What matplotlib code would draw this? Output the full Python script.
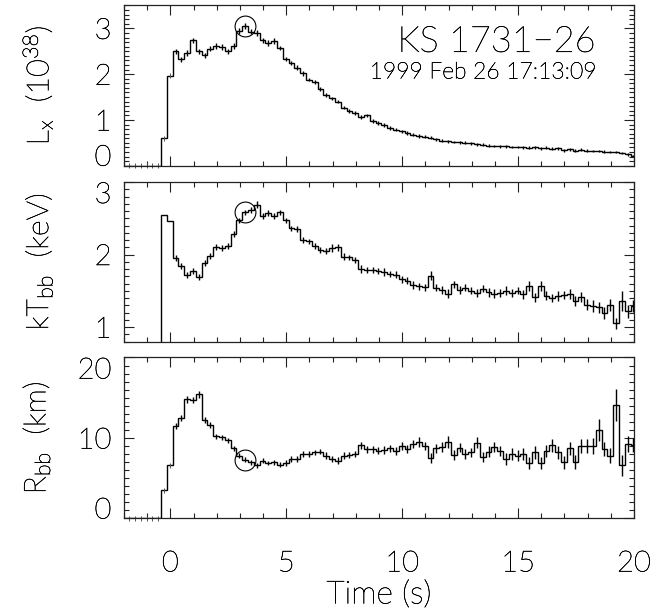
import numpy as np
import matplotlib
matplotlib.use('Agg')
import matplotlib.pyplot as plt
import matplotlib.patheffects as pe
from matplotlib.text import Text
from matplotlib.ticker import MultipleLocator

plt.rcParams['font.family'] = ['Lato', 'DejaVu Sans']
plt.rcParams['font.weight'] = 'light'
plt.rcParams['axes.labelweight'] = 'light'
plt.rcParams['mathtext.fontset'] = 'custom'
plt.rcParams['mathtext.rm'] = 'Lato:light'
plt.rcParams['mathtext.it'] = 'Lato:light'
plt.rcParams['mathtext.default'] = 'rm'

# 0.25 s bins; first 7 bins are before the burst onset
t_start = -2.15
bin_width = 0.25
marked_bin = 21   # bin circled in every panel

lx = [0, 0, 0, 0, 0, 0, 0,
      0.60, 1.97, 2.50, 2.32, 2.46, 2.74, 2.50, 2.41, 2.56, 2.62,
      2.59, 2.50, 2.62, 2.94, 3.05, 2.93, 2.90, 2.74, 2.68, 2.72,
      2.57, 2.33, 2.24, 2.14, 2.02, 1.88, 1.83, 1.68, 1.55, 1.47,
      1.40, 1.27, 1.20, 1.15, 1.07, 1.10, 0.98, 0.94, 0.89, 0.83,
      0.79, 0.75, 0.72, 0.68, 0.65, 0.63, 0.61, 0.58, 0.55, 0.53,
      0.52, 0.51, 0.50, 0.49, 0.47, 0.46, 0.44, 0.43, 0.42, 0.42,
      0.41, 0.41, 0.40, 0.39, 0.40, 0.38, 0.39, 0.37, 0.38, 0.34,
      0.36, 0.33, 0.35, 0.33, 0.32, 0.32, 0.31, 0.30, 0.30, 0.28,
      0.25, 0.21]
lx_err = [0.05, 0.05, 0.05, 0.05, 0.05, 0.05, 0.05,
          0.05, 0.06, 0.06, 0.06, 0.06, 0.06, 0.06, 0.06, 0.06, 0.06,
          0.06, 0.06, 0.06, 0.06, 0.06, 0.06, 0.06, 0.06, 0.06, 0.06,
          0.05, 0.05, 0.05, 0.05, 0.05, 0.04, 0.04, 0.04, 0.04, 0.04,
          0.04, 0.04, 0.04, 0.04, 0.04, 0.04, 0.04, 0.04, 0.04, 0.04,
          0.04, 0.04, 0.04, 0.04, 0.04, 0.03, 0.03, 0.03, 0.03, 0.03,
          0.03, 0.03, 0.03, 0.03, 0.03, 0.03, 0.03, 0.03, 0.03, 0.03,
          0.03, 0.03, 0.03, 0.03, 0.03, 0.03, 0.03, 0.03, 0.03, 0.03,
          0.03, 0.03, 0.03, 0.03, 0.03, 0.03, 0.03, 0.03, 0.03, 0.03,
          0.03, 0.03]

kt = [0, 0, 0, 0, 0, 0, 0,
      2.55, 2.46, 1.95, 1.84, 1.72, 1.77, 1.69, 1.88, 1.98, 2.10,
      2.09, 2.12, 2.28, 2.47, 2.58, 2.61, 2.69, 2.53, 2.57, 2.53,
      2.58, 2.47, 2.36, 2.35, 2.20, 2.18, 2.12, 2.06, 2.05, 2.09,
      2.10, 1.97, 1.96, 1.92, 1.80, 1.79, 1.79, 1.77, 1.76, 1.73,
      1.72, 1.66, 1.64, 1.58, 1.56, 1.55, 1.71, 1.54, 1.51, 1.46,
      1.59, 1.51, 1.54, 1.50, 1.47, 1.53, 1.48, 1.46, 1.47, 1.50,
      1.47, 1.50, 1.45, 1.56, 1.41, 1.56, 1.43, 1.40, 1.43, 1.44,
      1.46, 1.36, 1.41, 1.31, 1.29, 1.27, 1.19, 1.30, 1.05, 1.36,
      1.22, 1.29]
kt_err = [0, 0, 0, 0, 0, 0, 0,
          0.12, 0.06, 0.04, 0.04, 0.04, 0.04, 0.04, 0.04, 0.04, 0.04,
          0.04, 0.04, 0.04, 0.04, 0.04, 0.04, 0.05, 0.04, 0.04, 0.04,
          0.04, 0.04, 0.04, 0.04, 0.04, 0.04, 0.04, 0.04, 0.04, 0.05,
          0.05, 0.05, 0.04, 0.04, 0.05, 0.04, 0.04, 0.04, 0.05, 0.04,
          0.05, 0.05, 0.05, 0.05, 0.05, 0.05, 0.06, 0.05, 0.05, 0.06,
          0.05, 0.06, 0.05, 0.05, 0.06, 0.05, 0.06, 0.06, 0.06, 0.06,
          0.06, 0.05, 0.06, 0.07, 0.06, 0.07, 0.06, 0.06, 0.07, 0.06,
          0.07, 0.07, 0.07, 0.07, 0.08, 0.08, 0.08, 0.08, 0.08, 0.14,
          0.09, 0.08]

r = [0, 0, 0, 0, 0, 0, 0,
     3.5, 6.6, 11.5, 12.5, 14.8, 14.7, 15.4, 12.2, 11.6, 10.2,
     10.1, 9.7, 8.7, 7.8, 7.3, 7.0, 6.6, 7.2, 6.9, 7.0,
     6.7, 6.9, 7.4, 7.4, 8.0, 8.0, 8.2, 8.3, 7.8, 7.4,
     7.2, 7.8, 7.9, 8.0, 9.1, 8.6, 8.6, 8.4, 8.5, 8.7,
     8.4, 9.0, 8.6, 9.2, 9.5, 9.0, 7.5, 8.7, 8.9, 9.5,
     7.9, 8.8, 8.0, 8.2, 9.4, 7.6, 8.3, 8.9, 8.4, 7.4,
     8.0, 7.8, 8.0, 6.9, 8.2, 6.9, 8.4, 9.1, 8.2, 7.0,
     8.7, 7.0, 9.0, 9.0, 9.0, 11.0, 8.6, 7.8, 14.1, 6.6,
     9.2, 9.1]
r_err = [0.3, 0.3, 0.3, 0.3, 0.3, 0.3, 0.3,
         0.3, 0.35, 0.35, 0.35, 0.4, 0.4, 0.4, 0.35, 0.35, 0.3,
         0.3, 0.3, 0.3, 0.3, 0.3, 0.3, 0.3, 0.3, 0.3, 0.3,
         0.3, 0.35, 0.35, 0.35, 0.35, 0.35, 0.35, 0.35, 0.4, 0.4,
         0.4, 0.4, 0.4, 0.4, 0.45, 0.45, 0.45, 0.45, 0.45, 0.45,
         0.5, 0.5, 0.5, 0.5, 0.6, 0.5, 0.6, 0.55, 0.6, 0.8,
         0.6, 0.6, 0.6, 0.6, 0.7, 0.6, 0.65, 0.65, 0.65, 0.7,
         0.7, 0.7, 0.7, 0.7, 0.75, 0.75, 0.75, 0.8, 0.8, 0.8,
         0.85, 0.85, 0.9, 0.9, 1.0, 1.35, 0.9, 0.9, 2.0, 1.3,
         1.0, 0.9]

title = 'KS 1731\u221226'
subtitle = '1999 Feb 26 17:13:09'

n_bins = len(lx)
edges = t_start + bin_width * np.arange(n_bins + 1)
centers = edges[:-1] + bin_width / 2

fig = plt.figure(figsize=(6.56, 6.16), dpi=100)
left, width = 124 / 656, 510 / 656
ax1 = fig.add_axes([left, 0.7310, width, 0.2601])
ax2 = fig.add_axes([left, 0.4456, width, 0.2589])
ax3 = fig.add_axes([left, 0.1583, width, 0.2614])

panels = [
    (ax1, lx, lx_err, (0, 3.5), 1, 0.1, r'L$_\mathrm{x}$  (10$^{38}$)', True),
    (ax2, kt, kt_err, (0.8, 3.0), 1, 0.1, r'kT$_\mathrm{bb}$  (keV)', False),
    (ax3, r, r_err, (0, 20), 10, 1, r'R$_\mathrm{bb}$  (km)', True),
]

pre = centers < 0
for ax, vals, errs, ylim, major, minor, label, show_pre in panels:
    vals = np.array(vals)
    errs = np.array(errs)
    ax.stairs(vals, edges, baseline=None, color='black', lw=1.0)
    ax.errorbar(centers[~pre], vals[~pre], yerr=errs[~pre], fmt='none',
                ecolor='black', elinewidth=1.0, capsize=0)
    if show_pre:
        inside = pre & (centers > -2)
        ax.errorbar(centers[inside], vals[inside], yerr=errs[inside], fmt='none',
                    ecolor='#555555', elinewidth=0.7, capsize=0, clip_on=False)
    ax.plot(centers[marked_bin], vals[marked_bin], 'o', mfc='none', mec='black',
            mew=0.8, ms=15)
    ax.set_xlim(-2, 20)
    ax.set_ylim(*ylim)
    ax.xaxis.set_major_locator(MultipleLocator(5))
    ax.xaxis.set_minor_locator(MultipleLocator(1))
    ax.yaxis.set_major_locator(MultipleLocator(major))
    ax.yaxis.set_minor_locator(MultipleLocator(minor))
    ax.tick_params(which='both', direction='in', top=True, right=True,
                   width=0.8, colors='#222222', labelcolor='black')
    ax.tick_params(which='major', length=7.5, labelsize=21)
    ax.tick_params(which='minor', length=3.8)
    ax.tick_params(axis='y', pad=9)
    ax.tick_params(axis='x', pad=23)
    for s in ax.spines.values():
        s.set_linewidth(0.9)
        s.set_color('#222222')
    ax.set_ylabel(label, fontsize=22)
    ax.yaxis.set_label_coords(-0.135, 0.5)

ax3.yaxis.set_label_coords(-0.14, 0.5)
ax1.tick_params(labelbottom=False)
ax2.tick_params(labelbottom=False)
ax3.set_xlabel('Time (s)', fontsize=23)
ax3.xaxis.set_label_coords(0.5, -0.385)

ax1.text(0.925, 0.77, title, transform=ax1.transAxes, ha='right', va='center',
         fontsize=26)
ax1.text(0.925, 0.585, subtitle, transform=ax1.transAxes, ha='right', va='center',
         fontsize=16.5)

fig.canvas.draw()


def set_label_va(ax, value, va):
    # IDL-style: end labels pulled inside the frame
    for tick in ax.yaxis.get_major_ticks():
        if abs(tick.get_loc() - value) < 1e-9:
            tick.label1.set_va(va)


set_label_va(ax1, 0, 'baseline')
set_label_va(ax2, 3, 'top')
set_label_va(ax3, 0, 'baseline')
set_label_va(ax3, 20, 'top')

# darken the thin strokes of the light font a little
for t in fig.findobj(Text):
    t.set_path_effects([pe.withStroke(linewidth=0.35, foreground='black')])

fig.savefig('out.png', dpi=100)
